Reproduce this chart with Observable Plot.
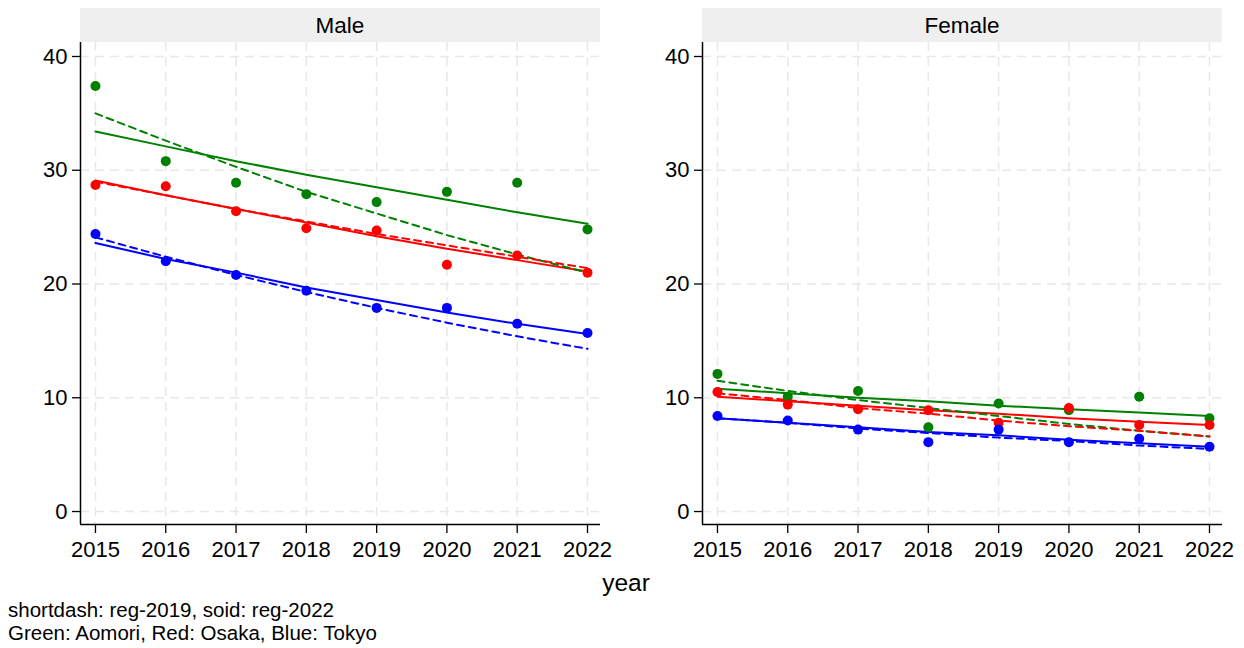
<!DOCTYPE html>
<html>
<head>
<meta charset="utf-8">
<script src="https://cdn.jsdelivr.net/npm/d3@7"></script>
<script src="https://cdn.jsdelivr.net/npm/@observablehq/plot@0.6"></script>
<style>
  html, body { margin: 0; padding: 0; background: #fff; }
  #wrap { position: relative; width: 1244px; height: 648px; font-family: "Liberation Sans", Arial, sans-serif; }
  #wrap svg { position: absolute; top: 0; }
  #xlabel { position: absolute; left: 0; width: 1252px; text-align: center; top: 569px; font-size: 24.5px; color: #000; }
  #caption { position: absolute; left: 8px; top: 598px; font-size: 20.5px; line-height: 23px; color: #000; white-space: nowrap; }
</style>
</head>
<body>
<div id="wrap">
  <div id="xlabel">year</div>
  <div id="caption">shortdash: reg-2019, soid: reg-2022<br>Green: Aomori, Red: Osaka, Blue: Tokyo</div>
</div>
<script>
// ---- data ----
const years = [2015, 2016, 2017, 2018, 2019, 2020, 2021, 2022];
const yTicks = [0, 10, 20, 30, 40];
const sexes = ["Male", "Female"];
const regions = ["Aomori", "Osaka", "Tokyo"];
const regionColors = ["#008000", "#ff0000", "#0000ff"];

// observed values
const maleAomori   = [37.4, 30.8, 28.9, 27.9, 27.2, 28.1, 28.9, 24.8];
const maleOsaka    = [28.7, 28.6, 26.4, 24.9, 24.7, 21.7, 22.5, 21.0];
const maleTokyo    = [24.4, 22.0, 20.8, 19.4, 17.9, 17.9, 16.5, 15.7];
const femaleAomori = [12.1, 10.1, 10.6, 7.4, 9.5, 8.9, 10.1, 8.2];
const femaleOsaka  = [10.5, 9.4, 9.0, 8.9, 7.8, 9.1, 7.6, 7.6];
const femaleTokyo  = [8.4, 8.0, 7.2, 6.1, 7.2, 6.1, 6.4, 5.7];

// regression lines (solid: reg-2022, dashed: reg-2019), read at each year
const maleAomoriReg2022   = [33.4, 32.1, 30.8, 29.6, 28.5, 27.4, 26.3, 25.3];
const maleAomoriReg2019   = [35.0, 32.6, 30.3, 28.1, 26.2, 24.3, 22.6, 21.0];
const maleOsakaReg2022    = [29.1, 27.8, 26.6, 25.4, 24.2, 23.1, 22.1, 21.1];
const maleOsakaReg2019    = [29.0, 27.8, 26.6, 25.5, 24.4, 23.4, 22.4, 21.4];
const maleTokyoReg2022    = [23.6, 22.2, 21.0, 19.7, 18.6, 17.5, 16.5, 15.6];
const maleTokyoReg2019    = [24.1, 22.4, 20.8, 19.3, 17.9, 16.6, 15.4, 14.3];
const femaleAomoriReg2022 = [10.8, 10.4, 10.0, 9.7, 9.3, 9.0, 8.7, 8.4];
const femaleAomoriReg2019 = [11.5, 10.6, 9.8, 9.1, 8.4, 7.7, 7.1, 6.6];
const femaleOsakaReg2022  = [10.1, 9.7, 9.3, 8.9, 8.6, 8.2, 7.9, 7.6];
const femaleOsakaReg2019  = [10.4, 9.8, 9.1, 8.6, 8.0, 7.5, 7.1, 6.6];
const femaleTokyoReg2022  = [8.2, 7.8, 7.4, 7.0, 6.7, 6.3, 6.0, 5.7];
const femaleTokyoReg2019  = [8.2, 7.8, 7.3, 6.9, 6.5, 6.2, 5.8, 5.5];

// ---- build tables ----
const observed = {
  Male: [maleAomori, maleOsaka, maleTokyo],
  Female: [femaleAomori, femaleOsaka, femaleTokyo]
};
const reg2022 = {
  Male: [maleAomoriReg2022, maleOsakaReg2022, maleTokyoReg2022],
  Female: [femaleAomoriReg2022, femaleOsakaReg2022, femaleTokyoReg2022]
};
const reg2019 = {
  Male: [maleAomoriReg2019, maleOsakaReg2019, maleTokyoReg2019],
  Female: [femaleAomoriReg2019, femaleOsakaReg2019, femaleTokyoReg2019]
};
function rows(arrs) {
  const out = [];
  arrs.forEach((vals, r) => vals.forEach((v, i) => out.push({region: regions[r], year: years[i], value: v})));
  return out;
}

const xDomain = [2014.787, 2022.185];
const yDomain = [-1.14, 41.23];
const font = "'Liberation Sans', Arial, sans-serif";

function stripMark(title) {
  return (index, scales, values, dims) => {
    const g = d3.create("svg:g");
    g.append("rect")
      .attr("x", dims.marginLeft).attr("y", 8)
      .attr("width", dims.width - dims.marginLeft - dims.marginRight).attr("height", 34)
      .attr("fill", "#efefef");
    g.append("text")
      .attr("x", dims.marginLeft + (dims.width - dims.marginLeft - dims.marginRight) / 2)
      .attr("y", 33)
      .attr("text-anchor", "middle")
      .attr("font-size", 22.5)
      .attr("font-family", font)
      .attr("fill", "#000")
      .text(title);
    return g.node();
  };
}

function panel(sex) {
  const pts = rows(observed[sex]);
  const l22 = rows(reg2022[sex]);
  const l19 = rows(reg2019[sex]);
  return Plot.plot({
    width: 622,
    height: 565,
    marginLeft: 80,
    marginRight: 22,
    marginTop: 42,
    marginBottom: 41,
    style: {fontFamily: font, fontSize: "22px", color: "#000", background: "transparent"},
    x: {domain: xDomain, label: null},
    y: {domain: yDomain, label: null},
    color: {domain: regions, range: regionColors},
    marks: [
      Plot.gridX(years, {stroke: "#e8e8e8", strokeOpacity: 1, strokeWidth: 1.5, strokeDasharray: "9,6"}),
      Plot.gridY(yTicks, {stroke: "#e8e8e8", strokeOpacity: 1, strokeWidth: 1.5, strokeDasharray: "9,6"}),
      stripMark(sex),
      Plot.ruleX([xDomain[0]], {stroke: "#000", strokeWidth: 1.5}),
      Plot.ruleY([yDomain[0]], {stroke: "#000", strokeWidth: 1.5}),
      Plot.axisX(years, {tickFormat: d => String(d), tickSize: 9, tickPadding: 8, label: null, strokeWidth: 1.3}),
      Plot.axisY(yTicks, {tickSize: 8, tickPadding: 5, label: null, strokeWidth: 1.3}),
      Plot.line(l22, {x: "year", y: "value", z: "region", stroke: "region", strokeWidth: 2, curve: "linear"}),
      Plot.line(l19, {x: "year", y: "value", z: "region", stroke: "region", strokeWidth: 2, strokeDasharray: "7,5", curve: "linear"}),
      Plot.dot(pts, {x: "year", y: "value", fill: "region", r: 5, stroke: null})
    ]
  });
}

const wrap = document.getElementById("wrap");
sexes.forEach((sex, i) => {
  const svg = panel(sex);
  svg.style.left = (i * 622) + "px";
  wrap.appendChild(svg);
});
</script>
</body>
</html>
